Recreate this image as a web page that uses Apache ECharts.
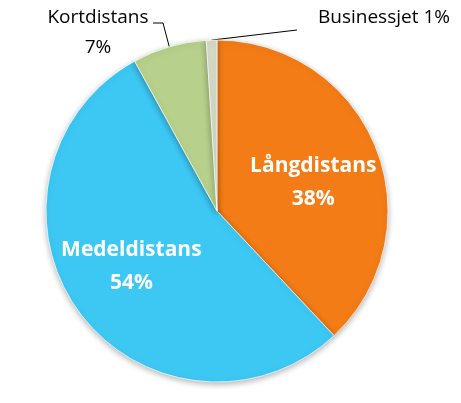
<!DOCTYPE html>
<html>
<head>
<meta charset="utf-8">
<script src="https://cdn.jsdelivr.net/npm/echarts@6/dist/echarts.min.js"></script>
<style>
html,body{margin:0;padding:0;background:#fff;}
#chart{width:461px;height:403px;}
</style>
</head>
<body>
<div id="chart"></div>
<script>
const categories = ['Långdistans', 'Medeldistans', 'Kortdistans', 'Businessjet'];
const values = [38, 54, 7, 1];
const colors = ['#F47C16', '#3DC8F4', '#B7D18C', '#D6DCC6'];
const labelKinds = ['inner', 'inner', 'outer', 'outer'];

const CX = 217, CY = 211, R = 171;
const total = values.reduce((a, b) => a + b, 0);
const midAngles = [];
let acc = 0;
values.forEach(v => { midAngles.push((acc + v / 2) / total * 360); acc += v; });

const chart = echarts.init(document.getElementById('chart'));
const data = categories.map((name, i) => {
  const inner = labelKinds[i] === 'inner';
  return {
    name: name,
    value: values[i],
    itemStyle: { color: colors[i] },
    label: inner ? {
      position: 'inside',
      formatter: '{b}\n{c}%',
      color: '#fff',
      fontWeight: 'bold',
      fontSize: 21,
      lineHeight: 33,
      fontFamily: 'Open Sans',
      overflow: 'none'
    } : {
      position: 'outside',
      formatter: i === 2 ? '{b}\n{c}%' : '{b} {c}%',
      color: '#000',
      fontSize: 19,
      lineHeight: 30,
      fontFamily: 'Open Sans',
      overflow: 'none'
    },
    labelLine: { show: !inner, lineStyle: { color: '#000', width: 1 } }
  };
});

chart.setOption({
  animation: false,
  series: [{
    type: 'pie',
    center: [CX, CY],
    radius: [0, R],
    startAngle: 90,
    clockwise: true,
    data: data,
    itemStyle: {
      borderColor: 'rgba(255,255,255,0.7)',
      borderWidth: 1,
      shadowBlur: 6,
      shadowOffsetY: 2,
      shadowColor: 'rgba(0,0,0,0.3)'
    },
    labelLayout: function (p) {
      const i = p.dataIndex;
      if (labelKinds[i] === 'inner') {
        const a = (midAngles[i] + 4) * Math.PI / 180;
        return {
          x: CX + 101 * Math.sin(a),
          y: CY - 101 * Math.cos(a) + 2,
          align: 'center',
          verticalAlign: 'middle'
        };
      }
      const a = midAngles[i] * Math.PI / 180;
      const ex = CX + R * Math.sin(a), ey = CY - R * Math.cos(a);
      if (i === 2) {
        return {
          x: 98, y: 33, align: 'center', verticalAlign: 'middle',
          labelLinePoints: [[ex, ey], [163, 23], [153, 23]]
        };
      }
      return {
        x: 318, y: 18, align: 'left', verticalAlign: 'middle',
        width: 160,
        labelLinePoints: [[ex, ey], [297, 30], [297, 30]]
      };
    }
  }]
});
</script>
</body>
</html>
